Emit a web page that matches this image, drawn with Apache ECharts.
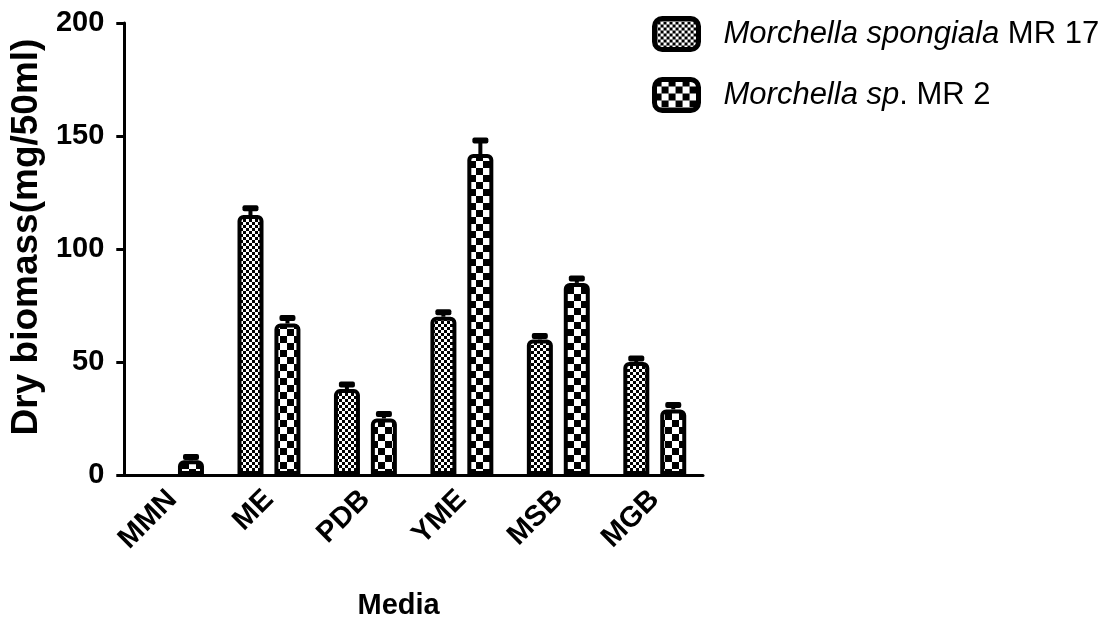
<!DOCTYPE html>
<html>
<head>
<meta charset="utf-8">
<title>Dry biomass by medium</title>
<script src="https://cdn.jsdelivr.net/npm/echarts@6/dist/echarts.min.js"></script>
<style>
  html, body { margin: 0; padding: 0; background: #fff; }
  #chart { width: 1109px; height: 628px; }
</style>
</head>
<body>
<div id="chart"></div>
<script>
// Culture media on the x axis
const media = ['MMN', 'ME', 'PDB', 'YME', 'MSB', 'MGB'];

// Dry biomass (mg/50ml) and the upper error for each strain
const spongialaMR17 = [0, 115, 38, 70, 60, 50];
const spongialaMR17Err = [0, 3, 2, 2, 1.5, 1.5];
const spMR2 = [6.5, 67, 25, 142, 85, 29];
const spMR2Err = [1.5, 2.5, 2, 6, 2, 2];

const yTicks = [0, 50, 100, 150, 200];

const FONT = 'Liberation Sans, Arial, sans-serif';

// Checkerboard fills drawn on small canvases
function checker(cell) {
  const c = document.createElement('canvas');
  c.width = cell * 2; c.height = cell * 2;
  const g = c.getContext('2d');
  g.fillStyle = '#fff'; g.fillRect(0, 0, c.width, c.height);
  g.fillStyle = '#000';
  g.fillRect(0, 0, cell, cell);
  g.fillRect(cell, cell, cell, cell);
  return { image: c, repeat: 'repeat' };
}
const fineFill = checker(3);
const coarseFill = checker(7);

const BAR_W = 26;
const BAR_GAP = 11;
const OFFSET = (BAR_W + BAR_GAP) / 2;

// Upward error bar with a heavy cap
function errorSeries(values, errs, dx) {
  return {
    type: 'custom',
    silent: true,
    z: 1,
    data: values.map((v, i) => [i, v, errs[i]]),
    renderItem(params, api) {
      const i = api.value(0), v = api.value(1), e = api.value(2);
      if (!e) return null;
      const base = api.coord([i, v]);
      const top = api.coord([i, v + e]);
      const x = base[0] + dx;
      return {
        type: 'group',
        children: [
          { type: 'line', shape: { x1: x, y1: base[1], x2: x, y2: top[1] },
            style: { stroke: '#000', lineWidth: 4 } },
          { type: 'rect', shape: { x: x - 8, y: top[1] - 3, width: 16, height: 6, r: 2 },
            style: { fill: '#000' } }
        ]
      };
    }
  };
}

const chart = echarts.init(document.getElementById('chart'));
chart.setOption({
  animation: false,
  backgroundColor: '#fff',
  textStyle: { fontFamily: FONT, color: '#000' },
  grid: { left: 115, right: 406, top: 23, bottom: 153 },
  legend: {
    orient: 'vertical',
    left: 647,
    top: 11,
    itemWidth: 44,
    itemHeight: 31,
    itemGap: 25,
    icon: 'roundRect',
    itemStyle: { borderColor: '#000', borderWidth: 5 },
    data: ['spongiala', 'sp'],
    formatter(name) {
      return name === 'spongiala'
        ? '{it|Morchella spongiala}{n| MR 17}'
        : '{it|Morchella sp}{n|. MR 2}';
    },
    textStyle: {
      padding: [0, 0, 0, 20],
      rich: {
        it: { fontSize: 31, fontStyle: 'italic', fontFamily: FONT, color: '#000' },
        n: { fontSize: 31, fontFamily: FONT, color: '#000' }
      }
    }
  },
  xAxis: {
    type: 'category',
    data: media,
    name: 'Media',
    nameLocation: 'middle',
    nameGap: 116,
    nameTextStyle: { fontSize: 29, fontWeight: 'bold', color: '#000', padding: [0, 30, 0, 0] },
    axisLine: { lineStyle: { color: '#000', width: 3 } },
    axisTick: { alignWithLabel: true, length: 13, lineStyle: { width: 3, color: '#000' } },
    axisLabel: { rotate: 45, margin: 20, fontSize: 29, fontWeight: 'bold', color: '#000' }
  },
  yAxis: {
    type: 'value',
    min: yTicks[0],
    max: yTicks[yTicks.length - 1],
    interval: 50,
    name: 'Dry biomass(mg/50ml)',
    nameLocation: 'middle',
    nameGap: 78,
    nameTextStyle: { fontSize: 37, fontWeight: 'bold', color: '#000', padding: [0, 0, 0, 24] },
    splitLine: { show: false },
    axisLine: { show: true, lineStyle: { color: '#000', width: 3 } },
    axisTick: { show: true, length: 8, lineStyle: { width: 3, color: '#000' } },
    axisLabel: { margin: 20, fontSize: 29, fontWeight: 'bold', color: '#000' }
  },
  series: [
    {
      name: 'spongiala',
      type: 'bar',
      barWidth: BAR_W,
      barGap: (BAR_GAP / BAR_W * 100).toFixed(0) + '%',
      z: 2,
      data: spongialaMR17.map(v => (v === 0 ? '-' : v)),
      itemStyle: { color: fineFill, borderColor: '#000', borderWidth: 4, borderRadius: [4, 4, 0, 0] }
    },
    {
      name: 'sp',
      type: 'bar',
      barWidth: BAR_W,
      z: 2,
      data: spMR2,
      itemStyle: { color: coarseFill, borderColor: '#000', borderWidth: 4, borderRadius: [4, 4, 0, 0] }
    },
    errorSeries(spongialaMR17, spongialaMR17Err, -OFFSET),
    errorSeries(spMR2, spMR2Err, OFFSET)
  ]
});
</script>
</body>
</html>
